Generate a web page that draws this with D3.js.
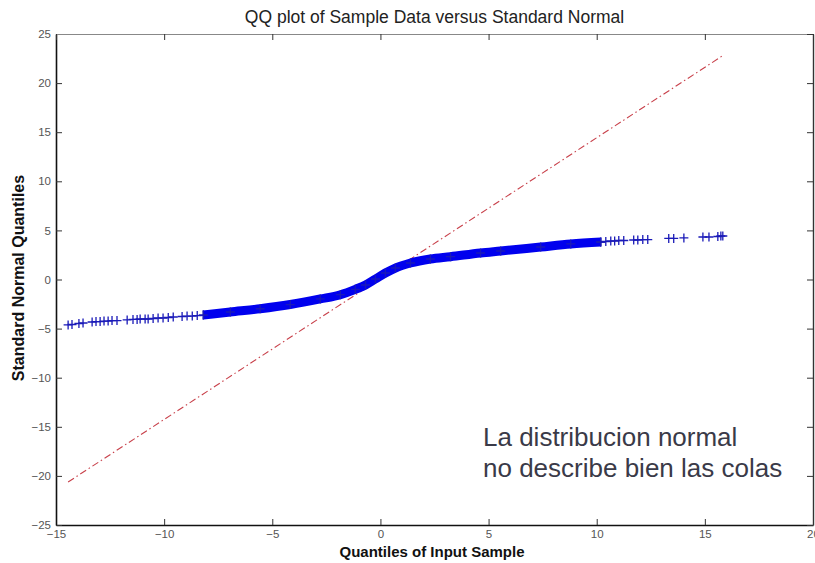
<!DOCTYPE html>
<html>
<head>
<meta charset="utf-8">
<script src="https://cdn.jsdelivr.net/npm/d3@7"></script>
<style>
  body { margin: 0; background: #fff; }
  svg { display: block; font-family: "Liberation Sans", Arial, sans-serif; }
</style>
</head>
<body>
<svg id="chart" width="815" height="563"></svg>
<script>
// sample quantiles (x) vs standard normal quantiles (y)
// left tail: individual markers
const leftTailX = [-14.44, -14.26, -13.94, -13.75, -13.33, -13.15, -12.96, -12.78, -12.59, -12.41, -12.18,
  -11.71, -11.44, -11.25, -11.11, -10.88, -10.74, -10.51, -10.28, -10.05, -9.81, -9.58, -9.17, -8.94, -8.70, -8.47, -8.19];
const leftTailY = [-4.63, -4.58, -4.48, -4.43, -4.33, -4.28, -4.28, -4.23, -4.23, -4.18, -4.18,
  -4.12, -4.07, -4.07, -4.02, -4.02, -4.02, -3.97, -3.92, -3.92, -3.87, -3.82, -3.77, -3.72, -3.72, -3.67, -3.62];

// body of the sample: markers overlap into a solid band
const bodyX = [-8.19, -6.94, -5.56, -4.17, -2.78, -1.85, -1.16, -0.69, -0.23, 0.23, 0.69, 1.39, 2.31, 3.24, 4.63, 5.56, 7.41, 8.80, 10.19];
const bodyY = [-3.62, -3.31, -2.98, -2.55, -1.98, -1.55, -1.00, -0.56, 0.05, 0.66, 1.17, 1.68, 2.09, 2.32, 2.70, 2.90, 3.31, 3.62, 3.82];

// right tail: individual markers
const rightTailX = [10.19, 10.42, 10.65, 10.83, 11.02, 11.25, 11.71, 11.90, 12.13, 12.36, 13.33, 13.56, 14.03, 14.91, 15.19, 15.60, 15.74, 15.83];
const rightTailY = [3.82, 3.87, 3.92, 3.92, 3.97, 3.97, 4.02, 4.02, 4.07, 4.07, 4.18, 4.18, 4.23, 4.33, 4.33, 4.38, 4.43, 4.43];

// reference line through the quartiles, drawn over the sample range
const refLineX = [-14.44, 15.83];
const refLineY = [-20.62, 22.80];

const xTicks = [-15, -10, -5, 0, 5, 10, 15, 20];
const yTicks = [-25, -20, -15, -10, -5, 0, 5, 10, 15, 20, 25];

const titleText = "QQ plot of Sample Data versus Standard Normal";
const xLabelText = "Quantiles of Input Sample";
const yLabelText = "Standard Normal Quantiles";
const noteLines = ["La distribucion normal", "no describe bien las colas"];

const margin = { top: 34, right: 2, bottom: 38, left: 56 };
const W = 815, H = 563;
const w = W - margin.left - margin.right,
  h = H - margin.top - margin.bottom;

const svg = d3.select("#chart");
const g = svg.append("g").attr("transform", "translate(" + margin.left + "," + margin.top + ")");

const x = d3.scaleLinear().domain([-15, 20]).range([0, w]);
const y = d3.scaleLinear().domain([-25, 25]).range([h, 0]);

// axes (ticks point inward like MATLAB)
const gX = g.append("g").attr("class", "axis x-axis")
  .attr("transform", "translate(0," + h + ")")
  .call(d3.axisBottom(x).tickValues(xTicks).tickSizeInner(-6).tickSizeOuter(0).tickPadding(5));
const gY = g.append("g").attr("class", "axis y-axis")
  .call(d3.axisLeft(y).tickValues(yTicks).tickSizeInner(-6).tickSizeOuter(0).tickPadding(5));
const gTop = g.append("g").attr("class", "axis top")
  .call(d3.axisTop(x).tickValues(xTicks).tickSizeInner(-6).tickSizeOuter(0).tickFormat(""));
const gRight = g.append("g").attr("class", "axis right")
  .attr("transform", "translate(" + w + ",0)")
  .call(d3.axisRight(y).tickValues(yTicks).tickSizeInner(-6).tickSizeOuter(0).tickFormat(""));

svg.selectAll(".axis text").attr("fill", "#555").style("font-size", "11.5px");
gX.select(".domain").attr("stroke", "#111").attr("stroke-width", 1.6);
gY.select(".domain").attr("stroke", "#111").attr("stroke-width", 1.6);
gTop.select(".domain").attr("stroke", "#888");
gRight.select(".domain").attr("stroke", "#333").attr("stroke-width", 1.4);
svg.selectAll(".axis .tick line").attr("stroke", "#333");

// reference line
g.append("line")
  .attr("x1", x(refLineX[0])).attr("y1", y(refLineY[0]))
  .attr("x2", x(refLineX[1])).attr("y2", y(refLineY[1]))
  .attr("stroke", "#c8404a")
  .attr("stroke-width", 1.1)
  .attr("stroke-dasharray", "7,3,1.5,3");

// solid band where markers overlap
const body = bodyX.map((d, i) => [d, bodyY[i]]);
g.append("path")
  .datum(body)
  .attr("fill", "none")
  .attr("stroke", "#0000ee")
  .attr("stroke-width", 9)
  .attr("d", d3.line().x((d) => x(d[0])).y((d) => y(d[1])).curve(d3.curveMonotoneX));

// + markers
const pts = leftTailX.map((d, i) => [d, leftTailY[i]])
  .concat(body)
  .concat(rightTailX.map((d, i) => [d, rightTailY[i]]));
g.selectAll(".pt")
  .data(pts)
  .enter()
  .append("path")
  .attr("class", "pt")
  .attr("transform", (d) => "translate(" + x(d[0]) + "," + y(d[1]) + ")")
  .attr("d", "M-4.5,0H4.5M0,-4.5V4.5")
  .attr("stroke", "#1a1ab8")
  .attr("stroke-width", 1.3);

// title and labels
svg.append("text")
  .attr("x", margin.left + w / 2).attr("y", 23)
  .attr("text-anchor", "middle")
  .style("font-size", "17.5px").attr("fill", "#222")
  .text(titleText);

svg.append("text")
  .attr("x", 432).attr("y", 557)
  .attr("text-anchor", "middle")
  .style("font-size", "15px").style("font-weight", "bold").attr("fill", "#111")
  .text(xLabelText);

svg.append("text")
  .attr("transform", "translate(24,278) rotate(-90)")
  .attr("text-anchor", "middle")
  .style("font-size", "16px").style("font-weight", "bold").attr("fill", "#111")
  .text(yLabelText);

// annotation
svg.append("text")
  .attr("x", 483).attr("y", 446)
  .style("font-size", "26px").attr("fill", "#3a3a48")
  .selectAll("tspan")
  .data(noteLines)
  .enter()
  .append("tspan")
  .attr("x", 483)
  .attr("dy", (d, i) => (i === 0 ? 0 : 31))
  .text((d) => d);
</script>
</body>
</html>
